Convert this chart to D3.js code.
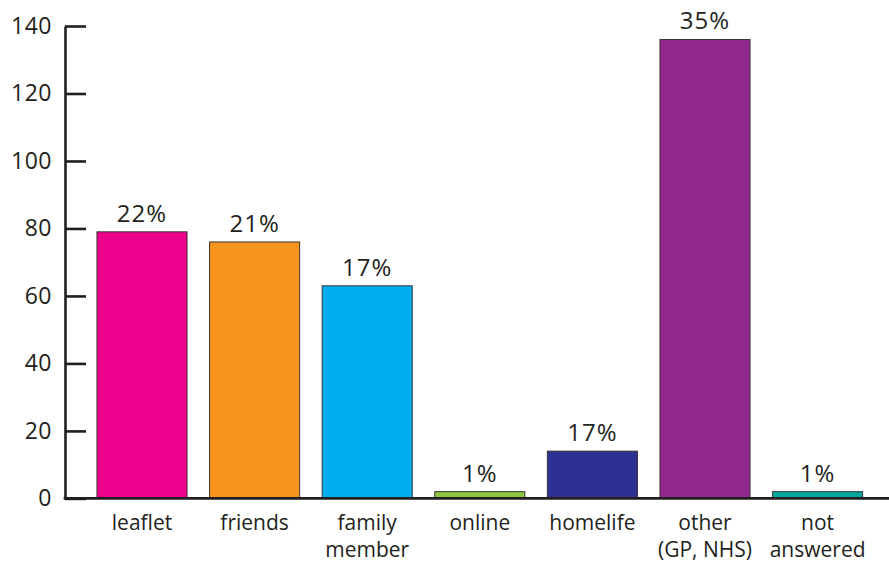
<!DOCTYPE html>
<html>
<head>
<meta charset="utf-8">
<script src="https://cdn.jsdelivr.net/npm/d3@7"></script>
<style>
  html, body { margin: 0; padding: 0; background: #fff; }
  svg { display: block; }
</style>
</head>
<body>
<svg id="chart" width="889" height="562"></svg>
<script>
// How respondents heard about the service (counts), with share labels
const categories = ["leaflet", "friends", "family\nmember", "online", "homelife", "other\n(GP, NHS)", "not\nanswered"];
const counts = [79, 76, 63, 2, 14, 136, 2];
const shareLabels = ["22%", "21%", "17%", "1%", "17%", "35%", "1%"];
const barColors = ["#ec008c", "#f7941d", "#00aeef", "#8dc63f", "#2e3192", "#92278f", "#00a99d"];
const yTicks = [0, 20, 40, 60, 80, 100, 120, 140];

const ink = "#231f20";
const font = "'Open Sans', 'Noto Sans', sans-serif";

const svg = d3.select("#chart");

const x = d3.scaleBand()
  .domain(categories)
  .range([85.7, 873.9])
  .paddingInner(0.2)
  .paddingOuter(0.1);

const y = d3.scaleLinear()
  .domain([0, 140])
  .range([498.4, 26]);

const axisX = 65;

// bars
svg.append("g")
  .selectAll("rect")
  .data(categories)
  .join("rect")
  .attr("x", d => x(d))
  .attr("y", (d, i) => y(counts[i]))
  .attr("width", x.bandwidth())
  .attr("height", (d, i) => y(0) - y(counts[i]))
  .attr("fill", (d, i) => barColors[i])
  .attr("stroke", "#3a3536")
  .attr("stroke-width", 1);

// share labels above bars
svg.append("g")
  .selectAll("text")
  .data(categories)
  .join("text")
  .attr("x", d => x(d) + x.bandwidth() / 2)
  .attr("y", (d, i) => y(counts[i]) - 10)
  .attr("text-anchor", "middle")
  .attr("font-family", font)
  .attr("font-size", 24)
  .attr("letter-spacing", 1)
  .attr("fill", ink)
  .text((d, i) => shareLabels[i]);

// y axis with inward ticks
const yAxis = d3.axisLeft(y)
  .tickValues(yTicks)
  .tickSizeInner(-21)
  .tickSizeOuter(0)
  .tickPadding(13);

const gy = svg.append("g")
  .attr("transform", `translate(${axisX},0)`)
  .call(yAxis);
gy.select(".domain").attr("stroke", ink).attr("stroke-width", 2.6);
gy.selectAll(".tick line").attr("stroke", ink).attr("stroke-width", 2.6);
gy.selectAll(".tick text")
  .attr("font-family", font)
  .attr("font-size", 23)
  .attr("letter-spacing", 0.5)
  .attr("fill", ink);

// baseline
svg.append("line")
  .attr("x1", axisX - 1.3)
  .attr("x2", 889)
  .attr("y1", y(0))
  .attr("y2", y(0))
  .attr("stroke", ink)
  .attr("stroke-width", 2.6);

// category labels
const catG = svg.append("g")
  .selectAll("text")
  .data(categories)
  .join("text")
  .attr("x", d => x(d) + x.bandwidth() / 2)
  .attr("y", 530)
  .attr("text-anchor", "middle")
  .attr("font-family", font)
  .attr("font-size", 21)
  .attr("fill", ink);

catG.selectAll("tspan")
  .data(d => d.split("\n"))
  .join("tspan")
  .attr("x", function () { return d3.select(this.parentNode).attr("x"); })
  .attr("dy", (d, i) => i === 0 ? 0 : 27)
  .text(d => d);
</script>
</body>
</html>
